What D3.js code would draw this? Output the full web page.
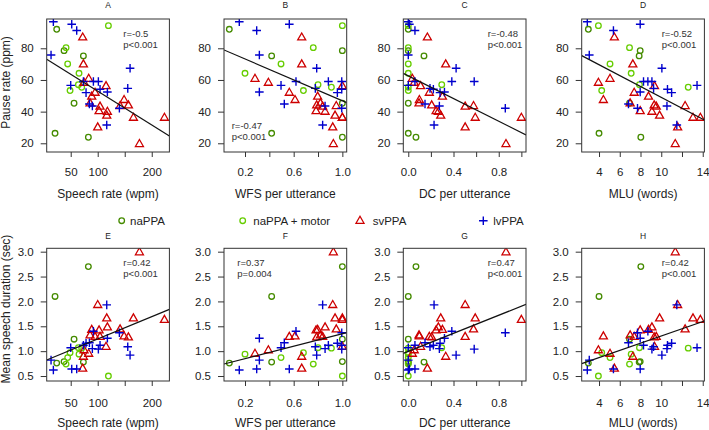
<!DOCTYPE html>
<html><head><meta charset="utf-8">
<script src="https://cdn.jsdelivr.net/npm/d3@7"></script>
<style>
body{margin:0;background:#fff}
svg{display:block;font-family:"Liberation Sans",Arial,Helvetica,sans-serif}
</style>
</head><body>
<svg id="chart" width="709" height="430"></svg>
<script>
// Each row = one participant: [speech rate (wpm), WFS per utterance, DC per utterance, MLU (words), pause rate (ppm), mean speech duration (sec)]
const naPPA = [
  [24.1, 0.071, 0.000, 2.97, 92.0, 0.76],
  [37.7, 1.000, 0.000, 7.97, 78.5, 0.79],
  [73.5, 0.419, 0.139, 7.87, 75.2, 0.78],
  [56.2, 1.000, 0.000, 6.94, 45.3, 1.24],
  [21.0, 0.419, 0.000, 4.00, 26.3, 2.10],
  [82.7, 1.000, 0.068, 8.03, 23.8, 2.70]
];
const naPPAmotor = [
  [119.8, 1.000, 0.000, 3.94, 94.3, 0.50],
  [41.4, 0.761, 0.000, 6.94, 80.4, 0.74],
  [44.4, 0.496, 0.000, 5.06, 70.1, 0.87],
  [65.4, 0.200, 0.000, 7.10, 64.2, 0.94],
  [48.8, 0.680, 0.000, 4.26, 53.3, 0.97],
  [64.2, 0.800, 0.296, 7.90, 57.0, 1.07],
  [70.4, 0.910, 0.000, 12.60, 55.4, 1.06]
];
const svPPA = [
  [72.2, 0.666, 0.169, 5.48, 86.9, 0.65],
  [73.5, 0.666, 0.331, 7.26, 69.9, 0.89],
  [83.3, 0.282, 0.036, 5.06, 60.8, 0.95],
  [74.7, 0.392, 0.053, 3.94, 58.3, 1.02],
  [115.4, 1.000, 0.109, 9.35, 56.2, 1.09],
  [95.1, 0.564, 0.186, 7.39, 52.0, 1.29],
  [88.9, 0.797, 0.302, 8.77, 49.5, 1.43],
  [85.8, 0.820, 0.095, 7.00, 45.3, 1.32],
  [104.3, 0.838, 0.503, 9.52, 43.2, 1.29],
  [102.5, 0.784, 0.246, 7.97, 40.4, 1.42],
  [117.9, 0.858, 0.266, 9.10, 40.0, 1.48],
  [116.7, 0.940, 0.287, 9.84, 37.5, 1.66],
  [148.8, 0.611, 0.098, 4.42, 47.4, 1.30],
  [156.8, 0.789, 0.207, 9.32, 44.0, 1.28],
  [166.1, 1.000, 0.592, 13.06, 36.2, 1.66],
  [223.5, 1.000, 1.000, 13.77, 36.2, 1.63],
  [100.0, 0.921, 0.503, 11.58, 30.1, 1.93],
  [177.2, 0.926, 0.864, 11.35, 19.6, 2.99],
  [141.4, 0.950, 0.577, 12.30, 43.6, 1.44]
];
const lvPPA = [
  [17.9, 0.153, 0.000, 2.87, 96.8, 0.62],
  [51.9, 0.564, 0.010, 7.97, 95.2, 0.64],
  [61.1, 0.296, 0.059, 5.39, 91.2, 0.64],
  [13.6, 0.318, 0.000, 3.06, 75.8, 0.82],
  [159.9, 0.789, 0.423, 10.06, 67.4, 0.92],
  [73.5, 0.885, 0.059, 8.29, 59.0, 1.12],
  [92.0, 0.619, 0.385, 8.71, 59.0, 1.40],
  [101.2, 0.995, 0.583, 9.10, 59.0, 1.04],
  [50.0, 0.496, 0.000, 13.45, 56.6, 1.07],
  [104.3, 0.995, 0.222, 10.60, 54.1, 1.12],
  [117.9, 0.318, 0.320, 7.97, 52.4, 1.26],
  [78.4, 0.959, 0.281, 11.00, 52.0, 1.16],
  [155.6, 0.778, 0.192, 9.26, 54.7, 1.09],
  [84.6, 0.523, 0.148, 6.84, 44.8, 1.17],
  [90.1, 0.858, 0.275, 10.55, 43.6, 1.05],
  [140.1, 0.995, 0.858, 7.71, 42.1, 1.37],
  [116.7, 0.838, 0.228, 11.50, 31.6, 1.93]
];

const groupNames = ["naPPA", "naPPA + motor", "svPPA", "lvPPA"];
const xTitles = ["Speech rate (wpm)", "WFS per utterance", "DC per utterance", "MLU (words)"];
const yTitles = ["Pause rate (ppm)", "Mean speech duration (sec)"];
const panelTitles = [["A", "B", "C", "D"], ["E", "F", "G", "H"]];

// regression fits [intercept, slope]
const pauseFits = [[74.24, -0.2133], [79.85, -32.98], [62.6, -35.85], [83.4, -3.44]];
const durationFits = [[0.797, 0.004487], [0.724, 0.625], [0.996, 0.908], [0.582, 0.0723]];
const pauseStats = [["r=-0.5", "p<0.001"], ["r=-0.47", "p<0.001"], ["r=-0.48", "p<0.001"], ["r=-0.52", "p<0.001"]];
const durationStats = [["r=0.42", "p<0.001"], ["r=0.37", "p=0.004"], ["r=0.47", "p<0.001"], ["r=0.42", "p<0.001"]];

const speechTicks = [50, 100, 150, 200], speechTickLabels = ["50", "100", "", "200"];
const wfsTicks = [0.2, 0.4, 0.6, 0.8, 1.0], wfsTickLabels = ["0.2", "", "0.6", "", "1.0"];
const dcTicks = [0, 0.2, 0.4, 0.6, 0.8, 1.0], dcTickLabels = ["0.0", "", "0.4", "", "0.8", ""];
const mluTicks = [4, 6, 8, 10, 12, 14], mluTickLabels = ["4", "6", "8", "10", "", "14"];
const pauseTicks = [20, 40, 60, 80], pauseTickLabels = ["20", "40", "60", "80"];
const durationTicks = [0.5, 1.0, 1.5, 2.0, 2.5, 3.0], durationTickLabels = ["0.5", "1.0", "1.5", "2.0", "2.5", "3.0"];

// ---- layout ----
const colLeft = [46.7, 224, 403.3, 581.7], pw = 122.7;
const rowBox = [{top: 19, bottom: 152, tickLab: 175.8, title: 197.5, ptitle: 8}, {top: 248.3, bottom: 381, tickLab: 406.8, title: 427, ptitle: 238.8}];
const xDomains = [[5.56, 232.7], [0.0274, 1.0357], [-0.044, 1.041], [2.33, 14.16]];
const yDomains = [[14.5, 98.5], [0.4, 3.068]];
const xTickSets = [[speechTicks, speechTickLabels], [wfsTicks, wfsTickLabels], [dcTicks, dcTickLabels], [mluTicks, mluTickLabels]];
const yTickSets = [[pauseTicks, pauseTickLabels], [durationTicks, durationTickLabels]];
const fits = [pauseFits, durationFits];
const stats = [pauseStats, durationStats];
const statPos = [[[76.6, 0], [7.7, 1], [84.4, 0], [80, 0]], [[76.6, 0], [13.3, 0], [84.4, 0], [80, 0]]];

const colors = {"naPPA": "#458B00", "naPPA + motor": "#66CD00", "svPPA": "#CD0000", "lvPPA": "#0000CD"};
const shapes = {"naPPA": "circle", "naPPA + motor": "circle", "svPPA": "triangle", "lvPPA": "plus"};
const groupData = {"naPPA": naPPA, "naPPA + motor": naPPAmotor, "svPPA": svPPA, "lvPPA": lvPPA};

const svg = d3.select("#chart");
svg.append("rect").attr("width", 709).attr("height", 430).attr("fill", "#fff");

function drawMarker(g, shape, color, x, y) {
  if (shape === "circle") {
    g.append("circle").attr("cx", x).attr("cy", y).attr("r", 2.8)
      .attr("fill", "none").attr("stroke", color).attr("stroke-width", 1.3);
  } else if (shape === "triangle") {
    const s = 4.0;
    g.append("path")
      .attr("d", `M${x},${y - s * 1.1}L${x + s},${y + s * 0.65}L${x - s},${y + s * 0.65}Z`)
      .attr("fill", "none").attr("stroke", color).attr("stroke-width", 1.3).attr("stroke-linejoin", "miter");
  } else {
    const s = 4.3;
    g.append("path").attr("d", `M${x - s},${y}H${x + s}M${x},${y - s}V${y + s}`)
      .attr("stroke", color).attr("stroke-width", 1.4).attr("fill", "none");
  }
}

const textCol = "#222";

for (let r = 0; r < 2; r++) {
  const rb = rowBox[r];
  const yVar = 4 + r;
  const y = d3.scaleLinear().domain(yDomains[r]).range([rb.bottom, rb.top]);
  for (let c = 0; c < 4; c++) {
    const x = d3.scaleLinear().domain(xDomains[c]).range([colLeft[c], colLeft[c] + pw]);
    const g = svg.append("g");
    const clipId = `clip${r}${c}`;
    svg.append("clipPath").attr("id", clipId).append("rect")
      .attr("x", colLeft[c]).attr("y", rb.top).attr("width", pw).attr("height", rb.bottom - rb.top);

    // axes
    const [xt, xl] = xTickSets[c];
    const xAxis = d3.axisBottom(x).tickValues(xt).tickSize(5).tickPadding(0).tickFormat((d, i) => xl[i]);
    const xa = g.append("g").attr("transform", `translate(0,${rb.bottom})`).call(xAxis);
    xa.select(".domain").remove();
    xa.selectAll("line").attr("stroke", "#333");
    xa.selectAll("text").attr("y", rb.tickLab - rb.bottom).attr("dy", 0)
      .attr("font-size", 11.5).attr("fill", textCol).attr("font-family", null);

    const [yt, yl] = yTickSets[r];
    const yAxis = d3.axisLeft(y).tickValues(yt).tickSize(6).tickPadding(7).tickFormat((d, i) => yl[i]);
    const ya = g.append("g").attr("transform", `translate(${colLeft[c]},0)`).call(yAxis);
    ya.select(".domain").remove();
    ya.selectAll("line").attr("stroke", "#333");
    ya.selectAll("text").attr("font-size", 11.5).attr("fill", textCol).attr("font-family", null);

    // points
    const pg = g.append("g").attr("clip-path", `url(#${clipId})`);
    groupNames.forEach(name => {
      groupData[name].forEach(row => {
        drawMarker(pg, shapes[name], colors[name], x(row[c]), y(row[yVar]));
      });
    });

    // regression line
    const [b0, b1] = fits[r][c];
    const d0 = xDomains[c][0], d1 = xDomains[c][1];
    pg.append("line")
      .attr("x1", x(d0)).attr("y1", y(b0 + b1 * d0))
      .attr("x2", x(d1)).attr("y2", y(b0 + b1 * d1))
      .attr("stroke", "#111").attr("stroke-width", 1.2);

    // frame
    g.append("rect").attr("x", colLeft[c]).attr("y", rb.top).attr("width", pw).attr("height", rb.bottom - rb.top)
      .attr("fill", "none").attr("stroke", "#333").attr("stroke-width", 1);

    // stats text
    const [sx, atBottom] = statPos[r][c];
    const sy = atBottom ? rb.bottom - 26 : rb.top + 14.3;
    const st = stats[r][c];
    g.append("text").attr("x", colLeft[c] + sx).attr("y", sy + 3.4).attr("font-size", 9.5).attr("fill", "#333").text(st[0]);
    g.append("text").attr("x", colLeft[c] + sx).attr("y", sy + 14.2).attr("font-size", 9.5).attr("fill", "#333").text(st[1]);

    // panel title
    g.append("text").attr("x", colLeft[c] + pw / 2).attr("y", rb.ptitle).attr("text-anchor", "middle")
      .attr("font-size", 8.5).attr("fill", textCol).text(panelTitles[r][c]);

    // x title
    g.append("text").attr("x", colLeft[c] + pw / 2).attr("y", rb.title).attr("text-anchor", "middle")
      .attr("font-size", 12).attr("fill", textCol).text(xTitles[c]);
  }
  // y title
  const yc = r === 0 ? 82.5 : 309;
  svg.append("text").attr("transform", `translate(10,${yc}) rotate(-90)`).attr("text-anchor", "middle")
    .attr("font-size", 12).attr("fill", textCol).text(yTitles[r]);
}

// legend
const legendPos = [[121.7, 130], [242.7, 253.3], [360, 372.7], [483.3, 493.3]];
const lg = svg.append("g");
groupNames.forEach((name, i) => {
  const [mx, tx] = legendPos[i];
  drawMarker(lg, shapes[name], colors[name], mx, 220.7);
  lg.append("text").attr("x", tx).attr("y", 224.8).attr("font-size", 11.5).attr("fill", textCol).text(name);
});
</script>
</body></html>
